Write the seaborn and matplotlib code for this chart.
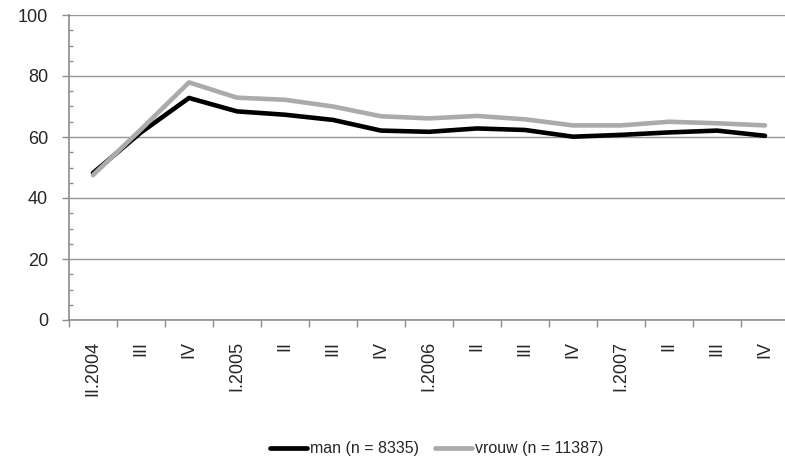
import matplotlib
matplotlib.use("Agg")
import matplotlib.pyplot as plt
import seaborn as sns
import pandas as pd
import numpy as np
from matplotlib.ticker import MultipleLocator, FixedLocator

# --- dados ---
kwartalen = ["II.2004", "III", "IV", "I.2005", "II", "III", "IV",
             "I.2006", "II", "III", "IV", "I.2007", "II", "III", "IV"]
man = [48.2, 61.5, 72.8, 68.4, 67.3, 65.6, 62.1, 61.7, 62.8, 62.3, 60.1, 60.7, 61.5, 62.1, 60.4]
vrouw = [47.5, 62.5, 77.9, 72.9, 72.2, 70.0, 66.8, 66.1, 66.9, 65.8, 63.8, 63.8, 65.0, 64.5, 63.8]
label_man = "man (n = 8335)"
label_vrouw = "vrouw (n = 11387)"

sns.set_style("white")
plt.rcParams['font.family'] = ['Liberation Sans', 'DejaVu Sans']

df = pd.DataFrame({
    "pos": list(range(len(kwartalen))) * 2,
    "waarde": man + vrouw,
    "groep": [label_man] * len(man) + [label_vrouw] * len(vrouw),
})

fig = plt.figure(figsize=(7.85, 4.68), dpi=100)
ax = fig.add_axes([69 / 785, 1 - 320 / 468, 716 / 785, 305 / 468])

sns.lineplot(data=df, x="pos", y="waarde", hue="groep",
             palette={label_man: "black", label_vrouw: "#ababab"},
             linewidth=3.3, ax=ax, legend=False)

ax.set_ylim(0, 100)
ax.set_xlim(-0.5, -0.5 + 716 / 48)
ax.yaxis.set_major_locator(MultipleLocator(20))
ax.yaxis.set_minor_locator(MultipleLocator(5))
ax.grid(axis="y", which="major", color="#969696", linewidth=1.0)
ax.set_axisbelow(True)

ax.set_xticks(range(len(kwartalen)))
ax.set_xticklabels(kwartalen, rotation=90, va="top", ha="center")
ax.xaxis.set_minor_locator(FixedLocator(np.arange(-0.5, len(kwartalen), 1.0)))
ax.tick_params(axis="x", which="major", length=0, pad=15, labelsize=13)
ax.tick_params(axis="x", which="minor", length=5, width=1, color="#8c8c8c", direction="out")
ax.tick_params(axis="y", which="major", length=5, width=1, color="#8c8c8c",
               direction="out", labelsize=13, pad=10)
ax.tick_params(axis="y", which="minor", length=3, width=1, color="#8c8c8c", direction="in")
ax.tick_params(axis="both", which="both", left=True, bottom=True)

for side in ["top", "right"]:
    ax.spines[side].set_visible(False)
for side in ["left", "bottom"]:
    ax.spines[side].set_color("#8c8c8c")
    ax.spines[side].set_linewidth(1.2)

ax.set_xlabel("")
ax.set_ylabel("")

handles = [plt.Line2D([], [], color="black", linewidth=3.4),
           plt.Line2D([], [], color="#ababab", linewidth=3.4)]
fig.legend(handles, [label_man, label_vrouw], loc="center",
           bbox_to_anchor=(437 / 785, 1 - 449 / 468), ncol=2, frameon=False,
           fontsize=11.5, handlelength=2.3, handletextpad=0.2, columnspacing=1.0)

fig.savefig("out.png", dpi=100)
